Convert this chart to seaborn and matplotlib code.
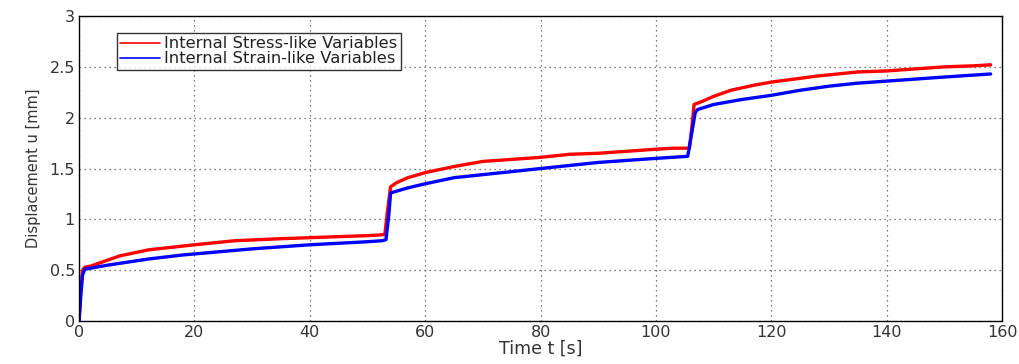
import numpy as np
import pandas as pd
import matplotlib
matplotlib.use("Agg")
import matplotlib.pyplot as plt
import seaborn as sns
from matplotlib.lines import Line2D

# Data
t_stress = [0, 0.3, 0.6, 1, 2, 4, 7, 12, 20, 27, 35, 40, 45, 50, 53, 53.5, 54, 55, 57, 60, 65, 70, 75, 80, 85, 90, 95, 100, 103, 105.8, 106.3, 106.6, 108, 110, 113, 117, 120, 124, 128, 135, 140, 145, 150, 155, 158]
y_stress = [0, 0.30, 0.50, 0.53, 0.54, 0.58, 0.64, 0.70, 0.75, 0.79, 0.81, 0.82, 0.83, 0.84, 0.85, 1.10, 1.32, 1.36, 1.41, 1.46, 1.52, 1.57, 1.59, 1.61, 1.64, 1.65, 1.67, 1.69, 1.70, 1.70, 1.95, 2.13, 2.16, 2.21, 2.27, 2.32, 2.35, 2.38, 2.41, 2.45, 2.46, 2.48, 2.50, 2.51, 2.52]

t_strain = [0, 0.3, 0.6, 1, 2, 5, 12, 18, 20, 30, 40, 50, 52.5, 53.2, 53.7, 54, 57, 60, 65, 70, 80, 85, 90, 95, 100, 105.5, 106.2, 106.8, 107.2, 110, 115, 120, 125, 130, 135, 140, 150, 158]
y_strain = [0, 0.25, 0.45, 0.51, 0.52, 0.55, 0.61, 0.65, 0.66, 0.71, 0.75, 0.78, 0.79, 0.80, 1.05, 1.26, 1.31, 1.35, 1.41, 1.44, 1.50, 1.53, 1.56, 1.58, 1.60, 1.62, 1.85, 2.05, 2.08, 2.13, 2.18, 2.22, 2.27, 2.31, 2.34, 2.36, 2.40, 2.43]

series_names = ["Internal Stress-like Variables", "Internal Strain-like Variables"]
series_colors = ["#ff0000", "#0000ff"]

x_ticks = [0, 20, 40, 60, 80, 100, 120, 140, 160]
y_ticks = [0, 0.5, 1, 1.5, 2, 2.5, 3]
y_tick_labels = ["0", "0.5", "1", "1.5", "2", "2.5", "3"]

df = pd.concat([
    pd.DataFrame({"t": t_stress, "u": y_stress, "series": series_names[0]}),
    pd.DataFrame({"t": t_strain, "u": y_strain, "series": series_names[1]}),
])

sns.set_style("white")
plt.rcParams['font.family'] = ['DejaVu Sans']

fig = plt.figure(figsize=(10.2, 3.64), dpi=100)
ax = fig.add_axes([0.0775, 0.118, 0.905, 0.838])

sns.lineplot(data=df, x="t", y="u", hue="series", palette=dict(zip(series_names, series_colors)),
             linewidth=2.4, ax=ax, legend=False, sort=False, estimator=None)

ax.set_xlim(0, 160)
ax.set_ylim(0, 3)
ax.set_xticks(x_ticks)
ax.set_xticklabels([str(v) for v in x_ticks])
ax.set_yticks(y_ticks)
ax.set_yticklabels(y_tick_labels)
ax.grid(True, linestyle=(0, (1, 3)), color="#555555", linewidth=0.9)
for s in ax.spines.values():
    s.set_color("black")
    s.set_linewidth(1.0)
ax.tick_params(direction="in", length=3, labelsize=11.5, colors="#333333", pad=3)
ax.set_xlabel("Time t [s]", fontsize=12.5, labelpad=0, color="#333333")
ax.set_ylabel("Displacement u [mm]", fontsize=10.5, labelpad=6, color="#333333")

handles = [Line2D([0], [0], color=c, linewidth=1.2) for c in series_colors]
leg = ax.legend(handles, series_names, loc="upper left", bbox_to_anchor=(0.041, 0.944),
                fontsize=11.8, frameon=True, fancybox=False, edgecolor="black",
                handlelength=2.4, handletextpad=0.3, borderpad=0.2, labelspacing=0.0,
                borderaxespad=0)
leg.get_frame().set_linewidth(1.0)
for txt in leg.get_texts():
    txt.set_color("#222222")

fig.savefig("out.png", dpi=100, facecolor="white")
